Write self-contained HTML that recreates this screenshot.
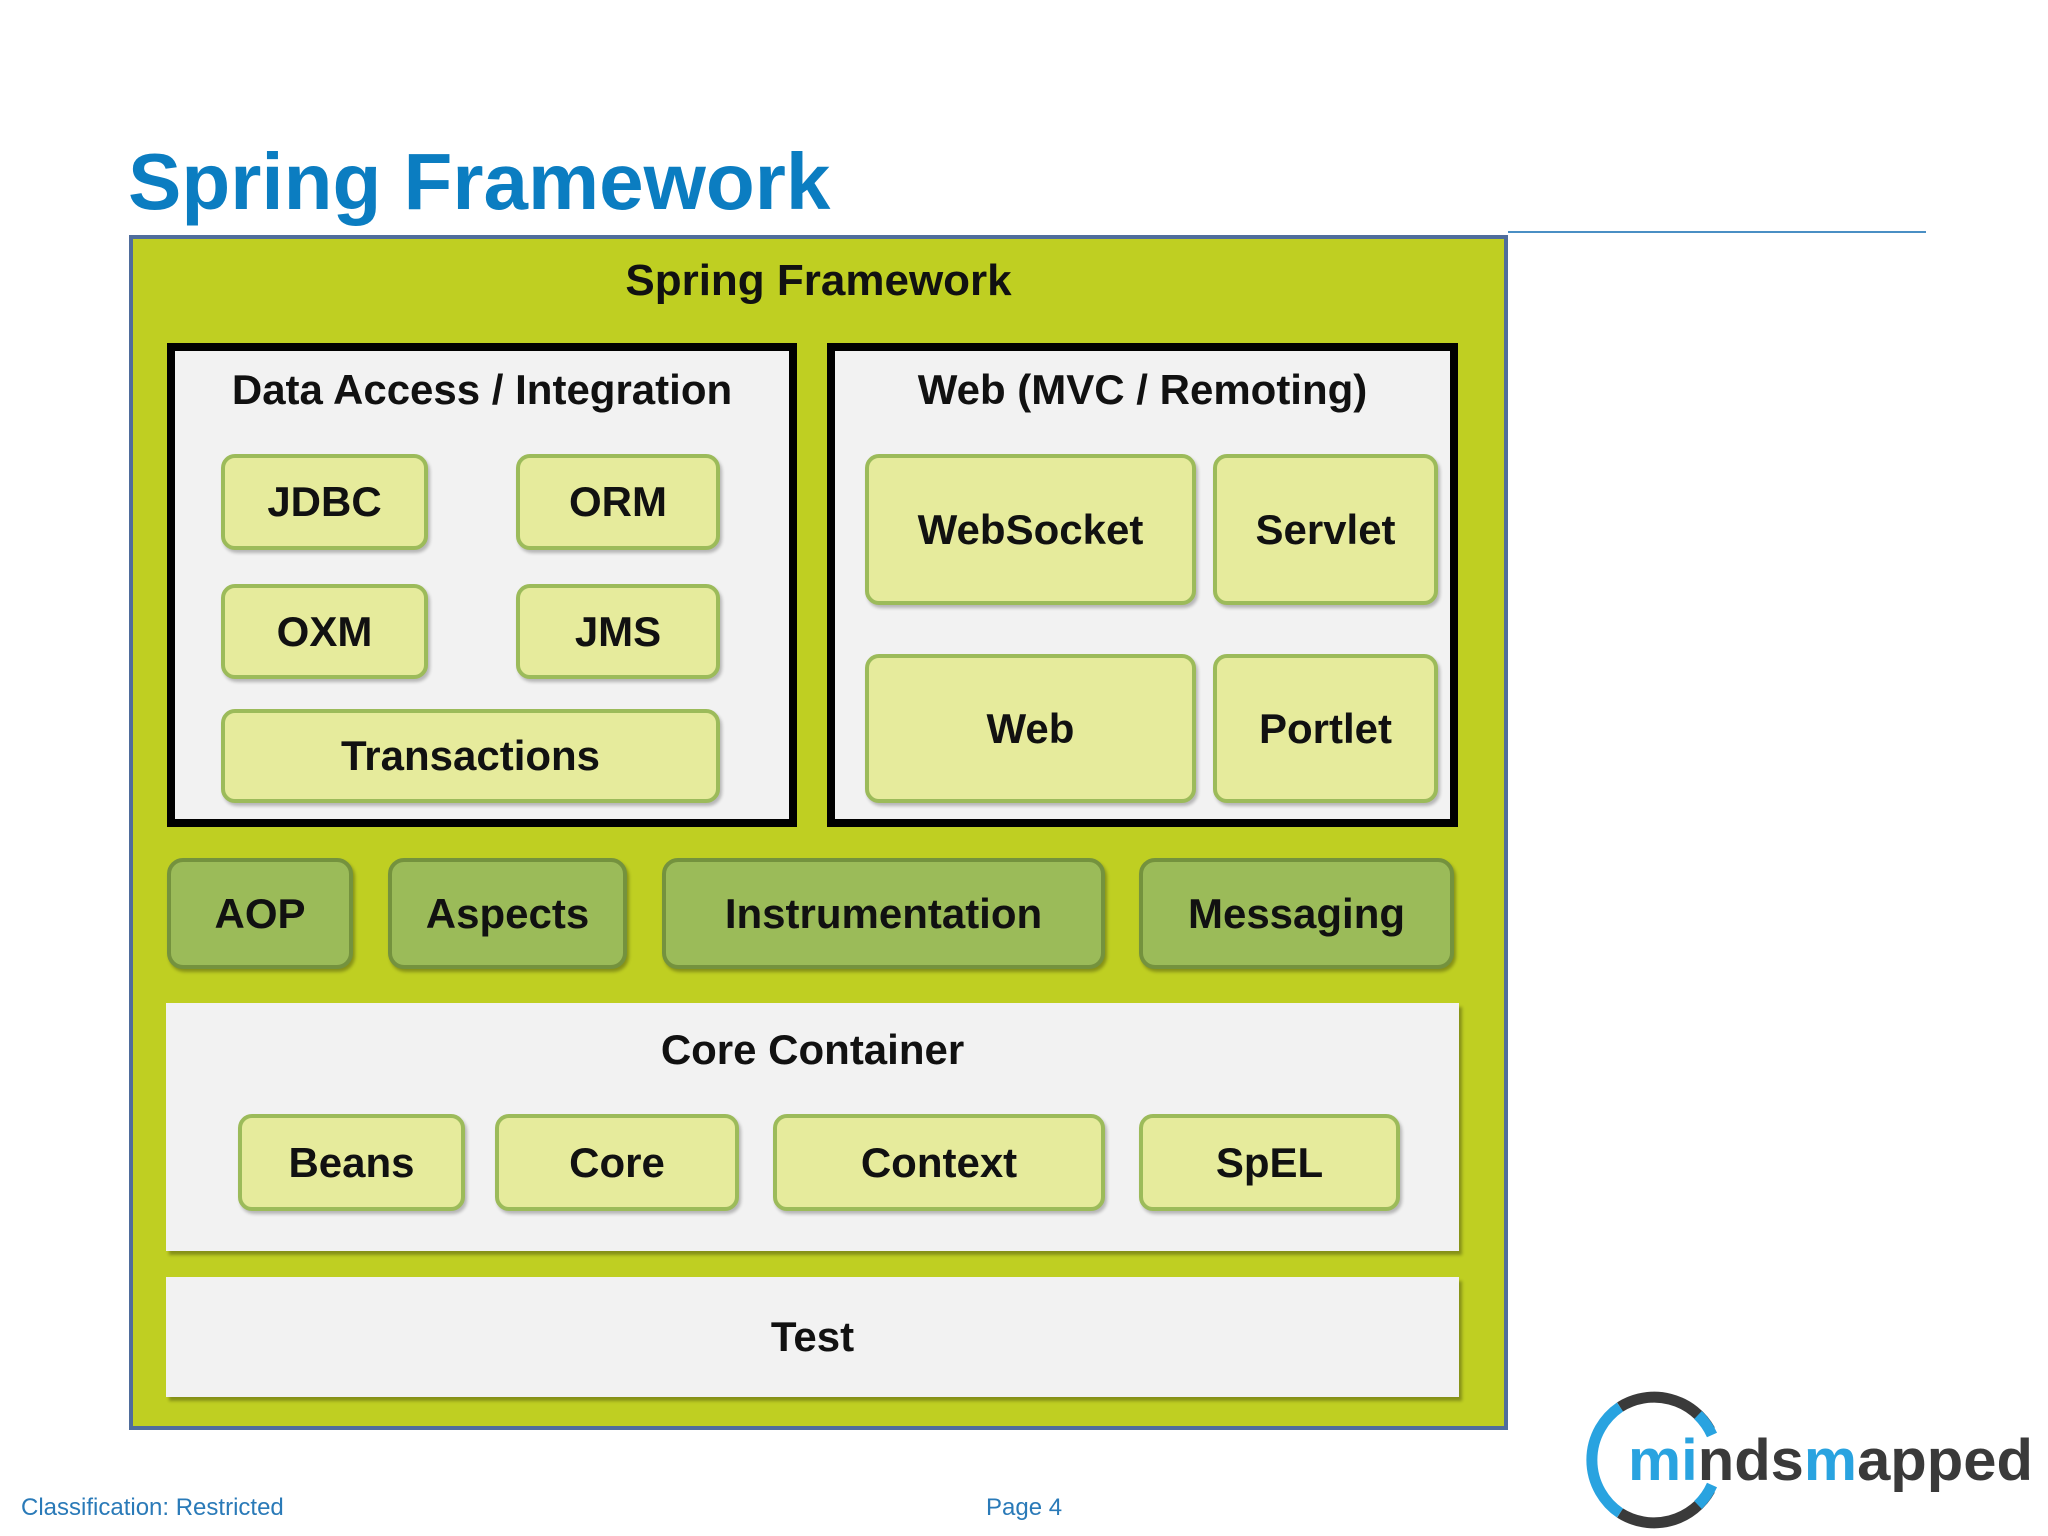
<!DOCTYPE html>
<html><head><meta charset="utf-8"><style>
*{margin:0;padding:0;box-sizing:border-box}
body{width:2048px;height:1536px;background:#fff;position:relative;overflow:hidden;font-family:"Liberation Sans",sans-serif}
.a{position:absolute}
.t{display:flex;align-items:center;justify-content:center;font-weight:bold;color:#111;font-size:42px;white-space:nowrap}
.lb{background:#e6eb9c;border:4px solid #9cbb5a;border-radius:14px;box-shadow:2px 3px 3px rgba(0,0,0,.25)}
.dg{background:#9bbb59;border:4px solid #74923e;border-radius:16px;box-shadow:2px 3px 3px rgba(0,0,0,.3)}
.wb{background:#f2f2f2;box-shadow:3px 4px 3px rgba(0,0,0,.3)}
.bx{background:#f2f2f2;border:8px solid #000}
</style></head><body>
<div class="a" style="left:128px;top:136px;font-size:80px;font-weight:bold;color:#0b7dc1;letter-spacing:0px">Spring Framework</div>
<div class="a" style="left:1508px;top:231px;width:418px;height:2px;background:#4a8fc4"></div>
<div class="a" style="left:129px;top:235px;width:1379px;height:1195px;background:#bfcf22;border:4px solid #4f6d9c"></div>
<div class="a t" style="left:129px;top:255px;width:1379px;height:52px;font-size:44px">Spring Framework</div>

<div class="a bx" style="left:167px;top:343px;width:630px;height:484px"></div>
<div class="a t" style="left:175px;top:364px;width:614px;height:52px">Data Access / Integration</div>
<div class="a bx" style="left:827px;top:343px;width:631px;height:484px"></div>
<div class="a t" style="left:835px;top:364px;width:615px;height:52px">Web (MVC / Remoting)</div>

<div class="a t lb" style="left:221px;top:454px;width:207px;height:96px">JDBC</div>
<div class="a t lb" style="left:516px;top:454px;width:204px;height:96px">ORM</div>
<div class="a t lb" style="left:221px;top:584px;width:207px;height:95px">OXM</div>
<div class="a t lb" style="left:516px;top:584px;width:204px;height:95px">JMS</div>
<div class="a t lb" style="left:221px;top:709px;width:499px;height:94px">Transactions</div>

<div class="a t lb" style="left:865px;top:454px;width:331px;height:151px">WebSocket</div>
<div class="a t lb" style="left:1213px;top:454px;width:225px;height:151px">Servlet</div>
<div class="a t lb" style="left:865px;top:654px;width:331px;height:149px">Web</div>
<div class="a t lb" style="left:1213px;top:654px;width:225px;height:149px">Portlet</div>

<div class="a t dg" style="left:167px;top:858px;width:186px;height:111px">AOP</div>
<div class="a t dg" style="left:388px;top:858px;width:239px;height:111px">Aspects</div>
<div class="a t dg" style="left:662px;top:858px;width:443px;height:111px">Instrumentation</div>
<div class="a t dg" style="left:1139px;top:858px;width:315px;height:111px">Messaging</div>

<div class="a wb" style="left:166px;top:1003px;width:1293px;height:248px"></div>
<div class="a t" style="left:166px;top:1024px;width:1293px;height:52px">Core Container</div>
<div class="a t lb" style="left:238px;top:1114px;width:227px;height:97px">Beans</div>
<div class="a t lb" style="left:495px;top:1114px;width:244px;height:97px">Core</div>
<div class="a t lb" style="left:773px;top:1114px;width:332px;height:97px">Context</div>
<div class="a t lb" style="left:1139px;top:1114px;width:261px;height:97px">SpEL</div>

<div class="a wb t" style="left:166px;top:1277px;width:1293px;height:120px">Test</div>

<div class="a" style="left:21px;top:1494px;font-size:24px;color:#2a7ab8">Classification: Restricted</div>
<div class="a" style="left:986px;top:1494px;font-size:24px;color:#2a7ab8">Page 4</div>

<svg class="a" style="left:1580px;top:1380px" width="468" height="156" viewBox="0 0 468 156">
<path d="M 40 27 A 64 64 0 0 1 130 50" fill="none" stroke="#3a3a3a" stroke-width="11"/>
<path d="M 130 110 A 64 64 0 0 1 40 133" fill="none" stroke="#3a3a3a" stroke-width="11"/>
<path d="M 40 27 A 64 64 0 0 0 40 133" fill="none" stroke="#29a3e0" stroke-width="11"/>
<path d="M 118 35 A 64 64 0 0 1 132 55" fill="none" stroke="#29a3e0" stroke-width="11"/>
<path d="M 132 105 A 64 64 0 0 1 118 125" fill="none" stroke="#29a3e0" stroke-width="11"/>
<text x="48" y="100" font-family="Liberation Sans,sans-serif" font-weight="bold" font-size="58" textLength="405" lengthAdjust="spacingAndGlyphs"><tspan fill="#29a3e0">mi</tspan><tspan fill="#3a3a3a">nds</tspan><tspan fill="#29a3e0">m</tspan><tspan fill="#3a3a3a">apped</tspan></text>
</svg>
</body></html>
